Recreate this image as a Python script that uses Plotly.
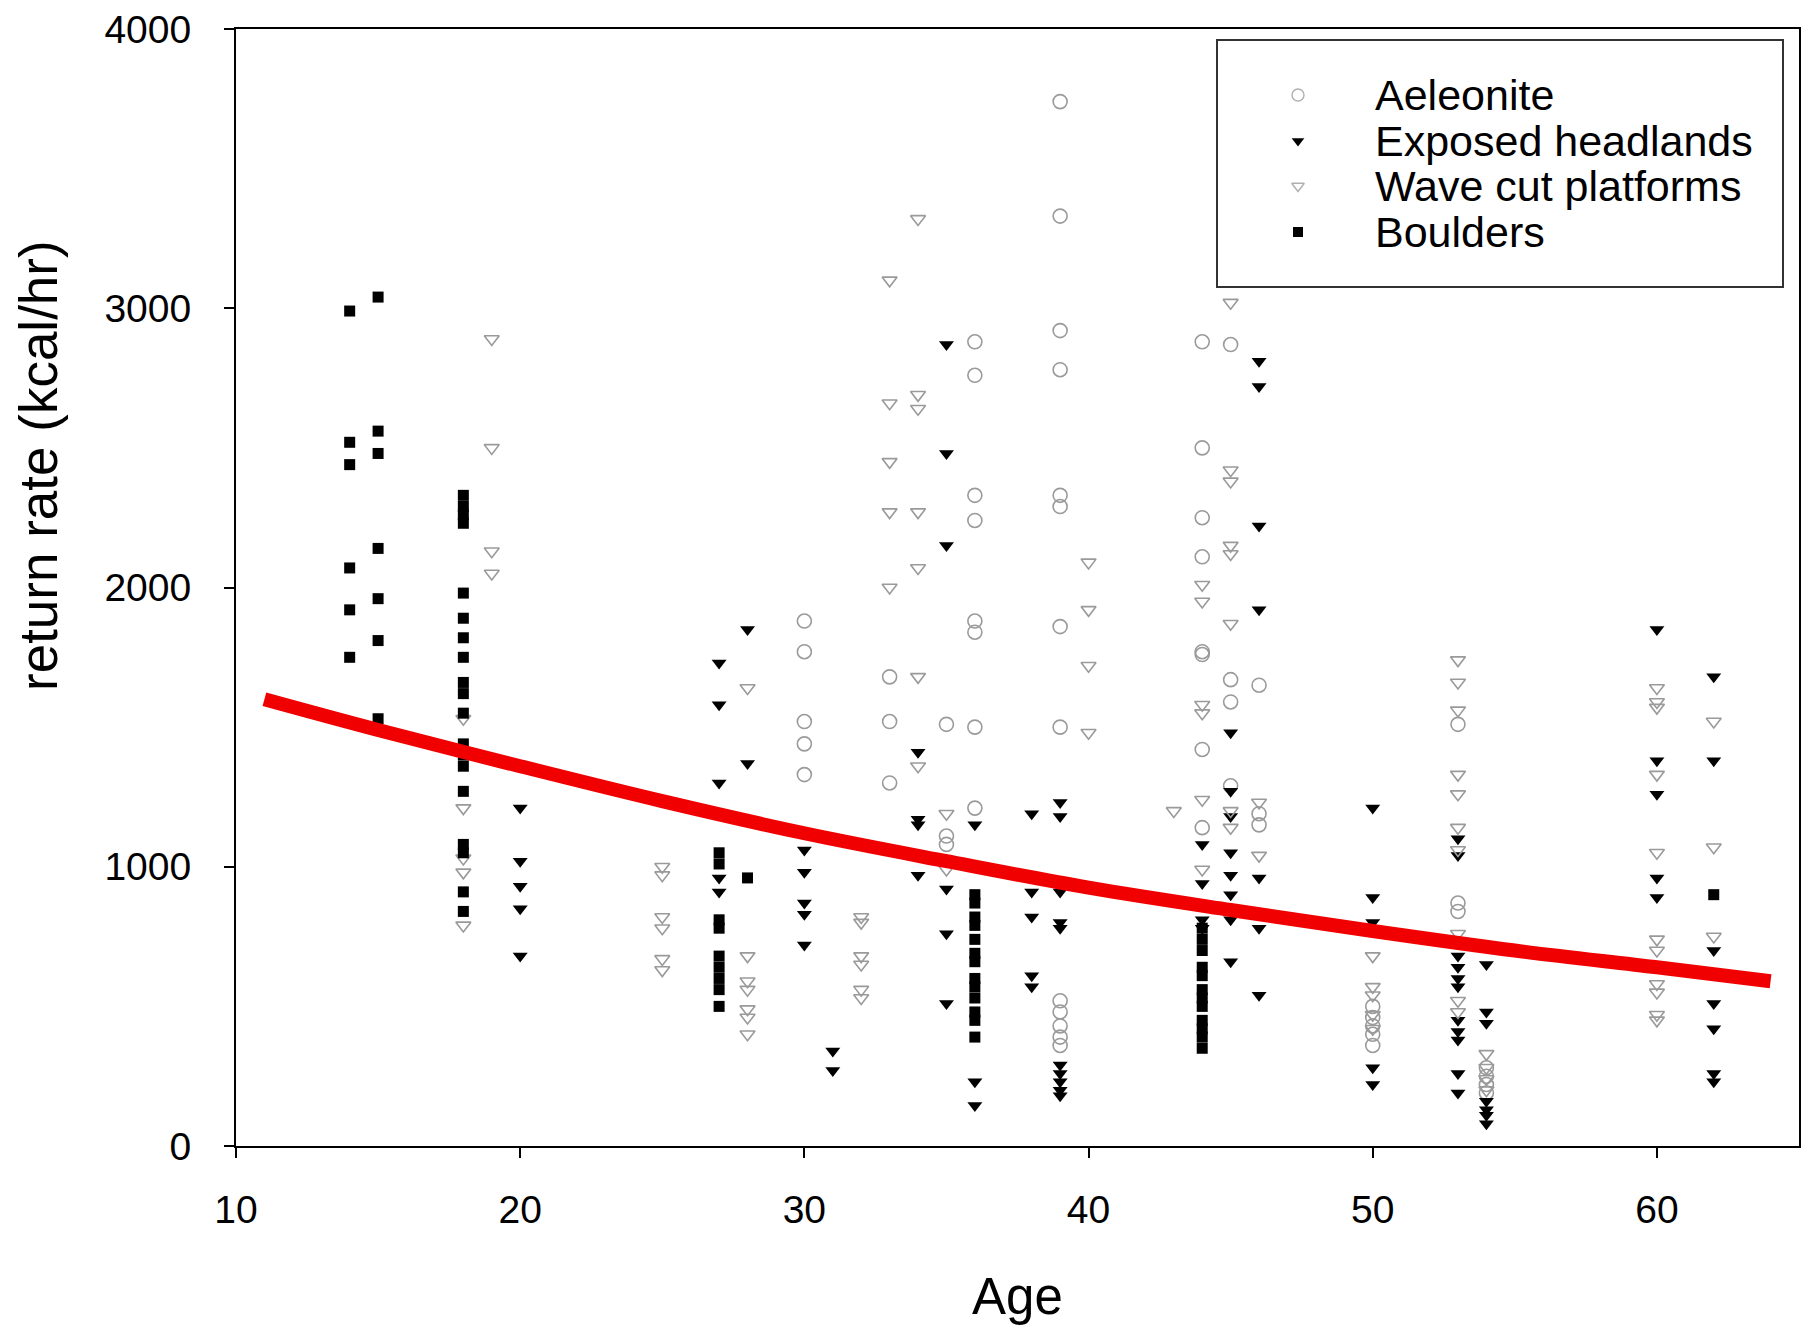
import plotly.graph_objects as go

# ---------------- data ----------------
aele_age = [30]*5 + [33]*3 + [35]*3 + [36]*8 + [39]*13 + [44]*8 + [45]*4 + [46]*3 + [50]*5 + [53]*3 + [54]*4
aele_rate = [1880, 1770, 1520, 1440, 1330,
             1680, 1520, 1300,
             1510, 1110, 1080,
             2880, 2760, 2330, 2240, 1880, 1840, 1500, 1210,
             3740, 3330, 2920, 2780, 2330, 2290, 1860, 1500, 520, 480, 430, 390, 360,
             2880, 2500, 2250, 2110, 1770, 1760, 1420, 1140,
             2870, 1670, 1590, 1290,
             1650, 1190, 1150,
             500, 460, 430, 400, 360,
             1510, 870, 840,
             280, 250, 220, 190]

head_age = ([20]*5 + [27]*5 + [28]*2 + [30]*5 + [31]*2 + [34]*4 + [35]*6 + [36]*3 + [38]*5 +
            [39]*10 + [44]*4 + [45]*8 + [46]*7 + [50]*5 + [53]*11 + [54]*7 + [60]*5 + [62]*7)
head_rate = [1210, 1020, 930, 850, 680,
             1730, 1580, 1300, 960, 910,
             1850, 1370,
             1060, 980, 870, 830, 720,
             340, 270,
             1410, 1170, 1150, 970,
             2870, 2480, 2150, 920, 760, 510,
             1150, 230, 145,
             1190, 910, 820, 610, 570,
             1230, 1180, 910, 800, 780, 290, 260, 230, 200, 180,
             1080, 940, 810, 780,
             1480, 1270, 1180, 1050, 970, 900, 810, 660,
             2810, 2720, 2220, 1920, 960, 780, 540,
             1210, 890, 800, 280, 220,
             1100, 1040, 680, 640, 600, 570, 450, 410, 380, 260, 190,
             650, 480, 440, 160, 130, 110, 80,
             1850, 1380, 1260, 960, 890,
             1680, 1380, 700, 510, 420, 260, 230]

wave_age = ([18]*5 + [19]*4 + [25]*6 + [28]*7 + [32]*6 + [33]*5 + [34]*7 + [35]*2 + [40]*4 + [43]*1 +
            [44]*6 + [45]*8 + [46]*2 + [50]*5 + [53]*10 + [54]*4 + [60]*11 + [62]*3)
wave_rate = [1530, 1210, 1030, 980, 790,
             2890, 2500, 2130, 2050,
             1000, 970, 820, 780, 670, 630,
             1640, 680, 590, 560, 490, 460, 400,
             820, 800, 680, 650, 560, 530,
             3100, 2660, 2450, 2270, 2000,
             3320, 2690, 2640, 2270, 2070, 1680, 1360,
             1190, 990,
             2090, 1920, 1720, 1480,
             1200,
             2010, 1950, 1580, 1550, 1240, 990,
             3020, 2420, 2380, 2150, 2120, 1870, 1200, 1140,
             1230, 1040,
             680, 570, 540, 470, 420,
             1740, 1660, 1560, 1330, 1260, 1140, 1060, 760, 520, 480,
             330, 280, 240, 200,
             1640, 1590, 1570, 1330, 1050, 740, 700, 580, 550, 470, 450,
             1520, 1070, 750]

boul_age = [14]*6 + [15]*7 + [18]*19 + [27]*9 + [28]*1 + [36]*13 + [44]*12 + [62]*1
boul_rate = [2990, 2520, 2440, 2070, 1920, 1750,
             3040, 2560, 2480, 2140, 1960, 1810, 1530,
             2330, 2290, 2260, 2230, 1980, 1890, 1820, 1750, 1660, 1620, 1550, 1440, 1400, 1360, 1270,
             1080, 1050, 910, 840,
             1050, 1010, 810, 780, 680, 640, 600, 560, 500,
             960,
             900, 870, 820, 790, 740, 690, 660, 600, 570, 530, 480, 450, 390,
             780, 740, 700, 640, 610, 560, 530, 500, 450, 420, 390, 350,
             900]

fit_age = [11, 15, 20, 25, 30, 35, 40, 45, 50, 55, 60, 64]
fit_rate = [1600, 1490, 1360, 1235, 1120, 1020, 925, 845, 770, 700, 640, 590]

series_names = ["Aeleonite", "Exposed headlands", "Wave cut platforms", "Boulders"]
x_ticks = [10, 20, 30, 40, 50, 60]
y_ticks = [0, 1000, 2000, 3000, 4000]

# ---------------- styling ----------------
FONT = "Liberation Sans, Arial, sans-serif"
GREY = "#9a9a9a"
styles = [
    dict(symbol="circle-open", size=14, color=GREY, line=dict(color=GREY, width=1.6)),
    dict(symbol="triangle-down", size=13, color="black", line=dict(color="black", width=0)),
    dict(symbol="triangle-down-open", size=13, color=GREY, line=dict(color=GREY, width=1.6)),
    dict(symbol="square", size=11, color="black", line=dict(color="black", width=0)),
]
key_styles = [
    dict(symbol="circle-open", size=12, color="#b0b0b0", line=dict(color="#b0b0b0", width=1.4)),
    dict(symbol="triangle-down", size=11, color="black", line=dict(width=0)),
    dict(symbol="triangle-down-open", size=11, color="#b0b0b0", line=dict(color="#b0b0b0", width=1.4)),
    dict(symbol="square", size=10, color="black", line=dict(width=0)),
]

fig = go.Figure()
for name, xs, ys, st in zip(series_names,
                            [aele_age, head_age, wave_age, boul_age],
                            [aele_rate, head_rate, wave_rate, boul_rate],
                            styles):
    fig.add_trace(go.Scatter(x=xs, y=ys, mode="markers", name=name,
                             marker=st, showlegend=False))

fig.add_trace(go.Scatter(x=fit_age, y=fit_rate, mode="lines", name="fit",
                         line=dict(color="#f00000", width=14, shape="spline", smoothing=1.0),
                         showlegend=False))

# ---------------- layout geometry (page body has an 8px margin) ----------------
OFF = 8
FIG_W, FIG_H = 1812 - 2 * OFF, 1333 - 2 * OFF
L, R, T, B = 236 - OFF, 1799 - OFF, 29 - OFF, 1146 - OFF
W, H = R - L, B - T

def px(xp):  # reference page x -> paper fraction
    return (xp - OFF - L) / W

def py(yp):  # reference page y -> paper fraction
    return (B - (yp - OFF)) / H

row_y = [95, 141, 186, 232]
key_x = 1298
text_x = 1373

fig.add_shape(type="rect", xref="paper", yref="paper",
              x0=px(1217), x1=px(1783), y0=py(287), y1=py(40),
              line=dict(color="#333333", width=2), fillcolor="white", layer="below")

for i, name in enumerate(series_names):
    fig.add_trace(go.Scatter(x=[px(key_x)], y=[py(row_y[i])], mode="markers",
                             marker=key_styles[i], xaxis="x2", yaxis="y2",
                             showlegend=False, hoverinfo="skip"))
    fig.add_annotation(xref="paper", yref="paper", x=px(text_x), y=py(row_y[i]),
                       text=name, showarrow=False, xanchor="left", yanchor="middle",
                       font=dict(family=FONT, size=43, color="black"))

# axis titles
fig.add_annotation(xref="paper", yref="paper", x=0.5, y=py(1296), text="Age",
                   showarrow=False, xanchor="center", yanchor="middle",
                   font=dict(family=FONT, size=51, color="black"))
fig.add_annotation(xref="paper", yref="paper", x=px(38), y=py(466),
                   text="return rate (kcal/hr)", textangle=-90,
                   showarrow=False, xanchor="center", yanchor="middle",
                   font=dict(family=FONT, size=53, color="black"))

axis_common = dict(showline=True, linecolor="black", linewidth=2, mirror=True,
                   ticks="outside", ticklen=10, tickwidth=2, tickcolor="black",
                   showgrid=False, zeroline=False, ticklabeloverflow="allow",
                   automargin=False,
                   tickfont=dict(family=FONT, size=39, color="black"))

fig.update_layout(
    width=FIG_W, height=FIG_H,
    margin=dict(l=L, r=FIG_W - R, t=T, b=FIG_H - B, autoexpand=False),
    paper_bgcolor="white", plot_bgcolor="white",
    showlegend=False,
    xaxis=dict(range=[10, 65], tickvals=x_ticks, ticklabelstandoff=18, **axis_common),
    yaxis=dict(range=[0, 4000], tickvals=y_ticks, ticklabelstandoff=25, **axis_common),
    xaxis2=dict(range=[0, 1], overlaying="x", visible=False),
    yaxis2=dict(range=[0, 1], overlaying="y", visible=False),
)

fig.write_html("out.html")
